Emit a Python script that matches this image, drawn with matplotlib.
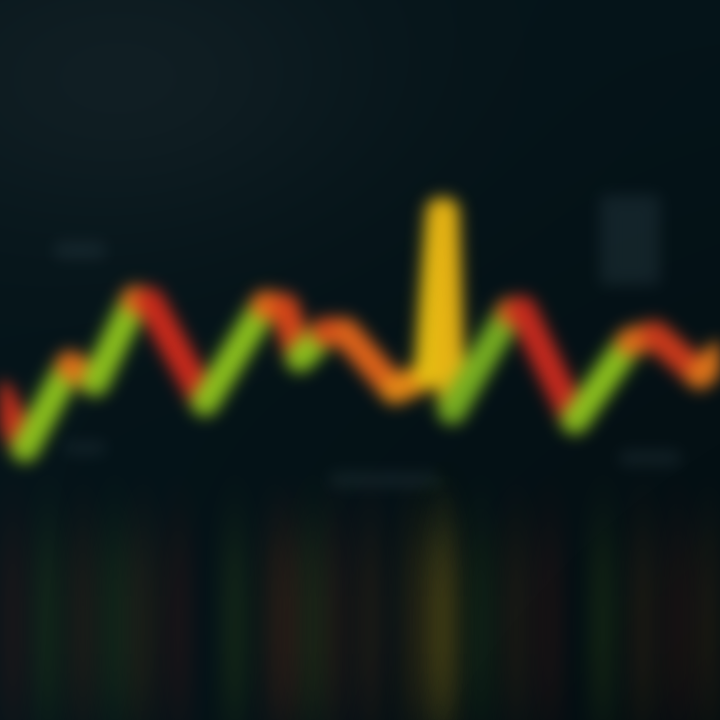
import numpy as np
import matplotlib
matplotlib.use('Agg')
import matplotlib.pyplot as plt
from matplotlib.collections import LineCollection

# Price-like series (x position, level)
x_pos = [0, 25, 70, 95, 135, 150, 205, 265, 285, 300, 325, 345, 395, 428, 440, 445, 452, 510, 522, 575, 630, 655, 700, 720]
level = [325, 272, 355, 338, 420, 418, 318, 415, 412, 362, 388, 388, 330, 345, 508, 508, 310, 408, 410, 300, 378, 385, 345, 365]

# colour of each segment (between consecutive points)
seg_colors = ['#c8301c', '#8cc21e', '#e2701a', '#8cc21e', '#e0741a', '#cc2a1c', '#8cc21e', '#e86a18',
              '#d8461a', '#8cc21e', '#d84a1a', '#e0641a', '#e88a16', '#e8c012', '#e6b614', '#e8b414',
              '#78b022', '#d46a1a', '#c82a1e', '#8cc21e', '#e0701a', '#cc3a1c', '#e0761a']

# faint ghost labels (blurred boxes in the picture)
ghost_x = [80, 630, 385, 650, 85]
ghost_y = [470, 480, 240, 262, 272]
ghost_w = [50, 60, 110, 60, 40]
ghost_h = [16, 90, 14, 14, 12]


def blur(sx, sy):
    # gaussian blur used as an agg filter on artists (colour kept at soft edges)
    def kernel(s):
        r = max(1, int(3 * s))
        t = np.arange(-r, r + 1)
        k = np.exp(-0.5 * (t / s) ** 2)
        return r, k / k.sum()

    def f(im, dpi):
        rx, kx = kernel(sx)
        ry, ky = kernel(sy)
        pad = max(rx, ry)
        im = np.pad(im, ((pad, pad), (pad, pad), (0, 0)))
        a = im[..., 3:4]
        pm = np.concatenate([im[..., :3] * a, a], axis=2)
        out = np.zeros_like(pm)
        for i, w in enumerate(kx):
            out += w * np.roll(pm, i - rx, axis=1)
        res = np.zeros_like(out)
        for i, w in enumerate(ky):
            res += w * np.roll(out, i - ry, axis=0)
        ab = res[..., 3:4]
        rgb = np.where(ab > 1e-6, res[..., :3] / np.maximum(ab, 1e-6), 0)
        return np.concatenate([np.clip(rgb, 0, 1), ab], axis=2), -pad, -pad
    return f


fig = plt.figure(figsize=(7.2, 7.2), dpi=100)
ax = fig.add_axes([0, 0, 1, 1])
ax.set_xlim(0, 720)
ax.set_ylim(0, 720)
ax.axis('off')

# background gradient
yy, xx = np.mgrid[0:720, 0:720]
base = np.array([0.02, 0.08, 0.10])
glow = np.exp(-(((xx - 120) / 260.0) ** 2 + ((yy - 640) / 160.0) ** 2))
shade = 1.0 - 0.35 * (xx / 720.0) * (1 - yy / 720.0)
bg = base[None, None, :] * shade[..., None] + 0.05 * glow[..., None] * np.array([0.9, 0.8, 0.8])
ax.imshow(bg, extent=[0, 720, 0, 720], origin='lower', zorder=0)

# ghost labels
for gx, gy, gw, gh in zip(ghost_x, ghost_y, ghost_w, ghost_h):
    p = plt.Rectangle((gx - gw / 2, gy - gh / 2), gw, gh, color='#5a7480', alpha=0.18, lw=0, zorder=1)
    p.set_agg_filter(blur(8, 8))
    ax.add_patch(p)

# reflection: soft vertical streaks below the segments
for i in range(len(x_pos) - 1):
    xm = (x_pos[i] + x_pos[i + 1]) / 2
    bars = ax.bar(xm, 230, bottom=-40, width=26, color=seg_colors[i], alpha=0.12, lw=0, zorder=1)
    for b in bars:
        b.set_agg_filter(blur(11, 40))

# main line, blurred
pts = np.column_stack([x_pos, level])
segs = np.stack([pts[:-1], pts[1:]], axis=1)
lc = LineCollection(segs, colors=seg_colors, linewidths=20, alpha=1.0,
                    capstyle='round', joinstyle='round', zorder=3)
lc.set_agg_filter(blur(8, 8))
ax.add_collection(lc)

fig.savefig('out.png', dpi=100, facecolor='#04141a')
